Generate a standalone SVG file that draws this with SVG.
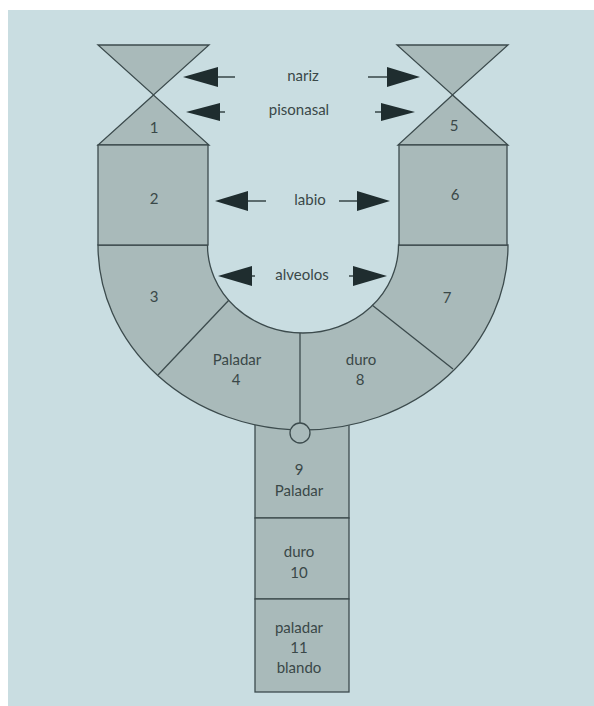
<svg xmlns="http://www.w3.org/2000/svg" width="594" height="706" viewBox="0 0 594 706">
<style>
.sh{fill:#a9baba;stroke:#3c4b4d;stroke-width:1.3}
.ln{stroke:#3c4b4d;stroke-width:1.3;fill:none}
.t{font-family:Lato,"Open Sans",sans-serif;font-size:15px;fill:#3a4848;text-anchor:middle}
.ah{fill:#1f2d2f}
.al{stroke:#1f2d2f;stroke-width:1.3}
</style>
<rect x="0" y="0" width="594" height="706" fill="#ffffff"/>
<rect x="8" y="10" width="586" height="696" fill="#c9dde1"/>
<g id="stem">
<rect class="sh" x="255" y="420" width="94" height="98"/>
<rect class="sh" x="255" y="518" width="94" height="81"/>
<rect class="sh" x="255" y="599" width="94" height="93"/>
<text class="t" x="299" y="475">9</text>
<text class="t" x="299" y="496">Paladar</text>
<text class="t" x="299" y="557">duro</text>
<text class="t" x="299" y="578">10</text>
<text class="t" x="299" y="633">paladar</text>
<text class="t" x="299" y="653">11</text>
<text class="t" x="299" y="673">blando</text>
</g>
<g id="band">
<path class="sh" d="M98,245 A205,185 0 0 0 508,245 L398.5,245 A95.5,88 0 0 1 207.5,245 Z"/>
<line class="ln" x1="229" y1="300" x2="158" y2="375"/>
<line class="ln" x1="372" y1="305" x2="453" y2="369"/>
<line class="ln" x1="300" y1="333" x2="300" y2="423"/>
<circle class="sh" cx="300" cy="433" r="10"/>
<text class="t" x="154" y="302">3</text>
<text class="t" x="447" y="303">7</text>
<text class="t" x="237" y="365">Paladar</text>
<text class="t" x="236" y="385">4</text>
<text class="t" x="361" y="365">duro</text>
<text class="t" x="360" y="385">8</text>
</g>
<g id="left">
<polygon class="sh" points="98,45 209,45 153.5,95"/>
<polygon class="sh" points="153.5,95 98,145 209,145"/>
<rect class="sh" x="98" y="145" width="110" height="100"/>
<text class="t" x="154" y="133">1</text>
<text class="t" x="154" y="204">2</text>
</g>
<g id="right">
<polygon class="sh" points="397,45 508,45 452.5,95"/>
<polygon class="sh" points="452.5,95 398,145 508,145"/>
<rect class="sh" x="399" y="145" width="108" height="100"/>
<text class="t" x="454" y="131">5</text>
<text class="t" x="455" y="200">6</text>
</g>
<g id="labels">
<text class="t" x="303" y="81">nariz</text>
<text class="t" x="299" y="115">pisonasal</text>
<text class="t" x="310" y="205">labio</text>
<text class="t" x="302" y="280">alveolos</text>
</g>
<g id="connectors">
<line class="al" x1="218" y1="77" x2="235" y2="77"/>
<polygon class="ah" points="183,77 218,67 218,87"/>
<line class="al" x1="220" y1="112" x2="225" y2="112"/>
<polygon class="ah" points="186,112 220,103 220,121"/>
<line class="al" x1="248" y1="201" x2="266" y2="201"/>
<polygon class="ah" points="215,201 248,191 248,211"/>
<line class="al" x1="252" y1="276" x2="255" y2="276"/>
<polygon class="ah" points="218,276 252,266 252,286"/>
<line class="al" x1="368" y1="77" x2="387" y2="77"/>
<polygon class="ah" points="420,77 387,67 387,87"/>
<line class="al" x1="375" y1="112" x2="381" y2="112"/>
<polygon class="ah" points="415,112 381,103 381,121"/>
<line class="al" x1="339" y1="201" x2="357" y2="201"/>
<polygon class="ah" points="390,201 357,191 357,211"/>
<line class="al" x1="349" y1="276" x2="353" y2="276"/>
<polygon class="ah" points="387,276 353,266 353,286"/>
</g>
</svg>
